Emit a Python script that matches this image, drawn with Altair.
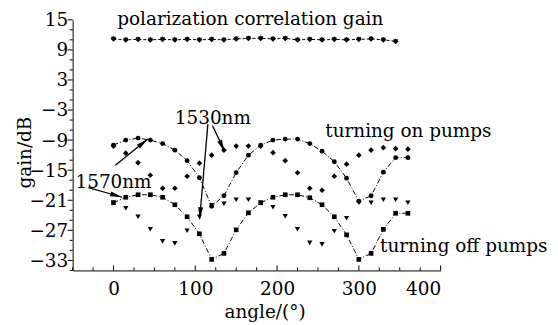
import math
import altair as alt
import pandas as pd

# ---------------- data ----------------
angles = [0, 15, 30, 45, 60, 75, 90, 105, 120, 135, 150, 165, 180,
          195, 210, 225, 240, 255, 270, 285, 300, 315, 330, 345, 360]

on_circle = [-10.0, -9.0, -8.6, -9.0, -9.7, -11.0, -13.1, -16.5, -22.2, -20.1, -15.5, -12.0, -10.0,
             -9.0, -8.8, -8.8, -9.7, -11.2, -13.3, -16.6, -21.2, -20.1, -15.4, -12.5, -12.5]
on_diamond = [-10.2, -11.6, -13.5, -16.0, -18.6, -18.6, -16.2, -13.6, -12.0, -11.0, -10.2, -10.2, -10.2,
              -11.5, -13.1, -15.5, -18.6, -19.0, -16.2, -13.8, -12.0, -11.0, -10.5, -10.7, -10.8]
off_square = [-21.5, -20.4, -19.9, -19.9, -20.4, -21.9, -24.3, -27.7, -32.8, -31.6, -26.9, -23.5, -21.5,
              -20.4, -19.9, -19.9, -20.5, -21.9, -24.3, -27.9, -32.8, -31.6, -26.8, -23.6, -23.6]
off_triangle = [-21.5, -22.6, -24.3, -26.8, -29.2, -29.6, -27.1, -24.3, -22.0, -21.7, -20.9, -20.9, -21.5,
                -22.4, -24.2, -26.8, -29.5, -29.8, -27.2, -24.6, -21.5, -21.5, -20.9, -20.9, -21.5]

pol_angles = [0, 15, 30, 45, 60, 75, 90, 105, 120, 135, 150, 165,
              180, 195, 210, 225, 240, 255, 270, 285, 300, 315, 330, 345]
pol_gain = [11.2, 11.0, 11.1, 11.0, 11.1, 11.0, 11.1, 11.0, 11.1, 11.0, 11.2, 11.3,
            11.3, 11.2, 11.3, 11.0, 11.1, 11.0, 11.1, 11.0, 11.1, 11.2, 11.0, 10.7]

x_labels = [0, 100, 200, 300, 400]
y_labels = [-33, -27, -21, -15, -9, -3, 3, 9, 15]
x_minor = [-50, -25, 25, 50, 75, 125, 150, 175, 225, 250, 275, 325, 350, 375]
y_minor = [13, 11, 7, 5, 1, -1, -5, -7, -11, -13, -17, -19, -23, -25, -29, -31, -35]

note_text = ["polarization correlation gain", "1530nm", "1570nm", "turning on pumps", "turning off pumps"]
note_x = [4.6, 75, -46.5, 259, 326]
note_y = [14.0, -5.8, -18.6, -8.4, -31.4]

arrow_x1 = [115.4, 121.0, 2.2, -30.7]
arrow_y1 = [-5.8, -6.1, -14.0, -18.5]
arrow_x2 = [105.3, 136.0, 42.0, 10.7]
arrow_y2 = [-24.8, -11.3, -8.8, -20.4]

# ---------------- layout ----------------
W, H = 370, 252
XD = [-50, 400]
YD = [-35, 15]
FONT = "DejaVu Serif"
FS = 18.5

sx = W / (XD[1] - XD[0])
sy = H / (YD[1] - YD[0])

xax = alt.Axis(values=x_labels, ticks=False, grid=False, domainColor="black", labelFont=FONT,
               labelFontSize=FS, labelColor="black", labelPadding=9, title="angle/(°)",
               titleFont=FONT, titleFontSize=FS, titleFontWeight="normal", titleColor="black",
               titleX=193, titleY=41, titleBaseline="middle", titleAlign="center")
yax = alt.Axis(values=y_labels, ticks=False, grid=False, domainColor="black", labelFont=FONT,
               labelFontSize=FS, labelColor="black", labelPadding=5, title="gain/dB",
               titleFont=FONT, titleFontSize=FS, titleFontWeight="normal", titleColor="black",
               titleAngle=270, titleX=-48, titleY=133, titleBaseline="middle", titleAlign="center")


def X(field):
    return alt.X(field, type="quantitative", scale=alt.Scale(domain=XD, nice=False, zero=False), axis=xax)


def Y(field):
    return alt.Y(field, type="quantitative", scale=alt.Scale(domain=YD, nice=False, zero=False), axis=yax)


df = pd.DataFrame({"angle": angles, "circle": on_circle, "diamond": on_diamond,
                   "square": off_square, "triangle": off_triangle})
pol = pd.DataFrame({"angle": pol_angles, "gain": pol_gain})

DASH = [5, 2, 1, 2]
layers = []

# lines
layers.append(alt.Chart(df).mark_line(color="black", strokeWidth=1, strokeDash=DASH).encode(x=X("angle"), y=Y("circle")))
layers.append(alt.Chart(df).mark_line(color="black", strokeWidth=1, strokeDash=DASH).encode(x=X("angle"), y=Y("square")))
layers.append(alt.Chart(pol).mark_line(color="black", strokeWidth=1, strokeDash=[3, 2]).encode(x=X("angle"), y=Y("gain")))

# points
layers.append(alt.Chart(df).mark_point(shape="circle", filled=True, color="black", size=24, opacity=1).encode(x=X("angle"), y=Y("circle")))
layers.append(alt.Chart(df).mark_point(shape="diamond", filled=True, color="black", size=32, opacity=1).encode(x=X("angle"), y=Y("diamond")))
layers.append(alt.Chart(df).mark_point(shape="square", filled=True, color="black", size=22, opacity=1).encode(x=X("angle"), y=Y("square")))
layers.append(alt.Chart(df).mark_point(shape="triangle-down", filled=True, color="black", size=28, opacity=1).encode(x=X("angle"), y=Y("triangle")))
layers.append(alt.Chart(pol).mark_point(shape="diamond", filled=True, color="black", size=36, opacity=1).encode(x=X("angle"), y=Y("gain")))
layers.append(alt.Chart(pol).mark_point(shape="triangle-down", filled=True, color="black", size=26, opacity=1).encode(x=X("angle"), y=Y("gain")))

# axis ticks (x inward, y outward)
for v_list, ln in ((x_labels, 5), (x_minor, 3)):
    layers.append(alt.Chart(pd.DataFrame({"v": v_list})).mark_rule(color="black", strokeWidth=1).encode(
        x=X("v"), y=alt.value(H), y2=alt.value(H - ln)))
for v_list, ln in ((y_labels, 5), (y_minor, 3)):
    layers.append(alt.Chart(pd.DataFrame({"v": v_list})).mark_rule(color="black", strokeWidth=1).encode(
        y=Y("v"), x=alt.value(-ln), x2=alt.value(0)))

# arrows
arr = pd.DataFrame({"x1": arrow_x1, "y1": arrow_y1, "x2": arrow_x2, "y2": arrow_y2})
arr["ang"] = [
    math.degrees(math.atan2((b - a) * sx, (d - c) * sy)) % 360
    for a, b, c, d in zip(arrow_x1, arrow_x2, arrow_y1, arrow_y2)
]
layers.append(alt.Chart(arr).mark_rule(color="black", strokeWidth=1.3).encode(
    x=X("x1"), y=Y("y1"), x2="x2", y2="y2"))
layers.append(alt.Chart(arr).mark_point(shape="M0,0 L0.2,1 L-0.2,1 Z", filled=True, color="black",
                                        size=600, opacity=1).encode(
    x=X("x2"), y=Y("y2"), angle=alt.Angle("ang:Q", scale=None)))

# text notes
notes = pd.DataFrame({"t": note_text, "x": note_x, "y": note_y})
layers.append(alt.Chart(notes).mark_text(font=FONT, fontSize=FS, color="black", align="left",
                                         baseline="alphabetic").encode(x=X("x"), y=Y("y"), text="t:N"))

chart = alt.layer(*layers).properties(
    width=W, height=H,
    autosize=alt.AutoSizeParams(type="none"),
    padding={"left": 65, "top": 11, "right": 110, "bottom": 55},
).configure_view(stroke=None)

chart.save("out.html", embed_options={"renderer": "svg", "actions": False})
